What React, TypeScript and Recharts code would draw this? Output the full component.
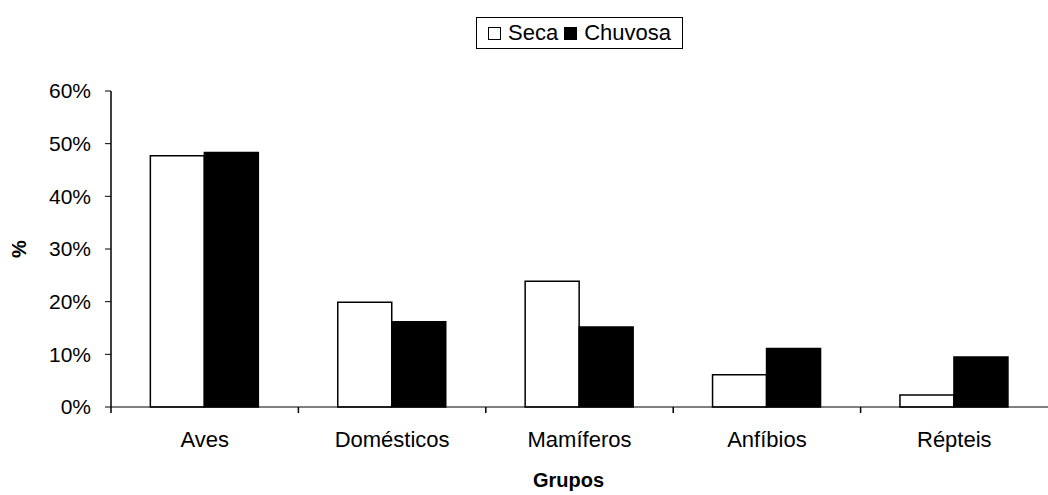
import React from "react";
import { BarChart, Bar, XAxis, YAxis, Legend } from "recharts";

// percentual de registros por grupo, em cada estação
const grupos = ["Aves", "Domésticos", "Mamíferos", "Anfíbios", "Répteis"];
const seca = [47.7, 19.9, 23.9, 6.1, 2.3];
const chuvosa = [48.3, 16.2, 15.2, 11.1, 9.5];
const yTicks = [0, 10, 20, 30, 40, 50, 60];

const estacoes = [
  { key: "seca", nome: "Seca", fill: "#ffffff" },
  { key: "chuvosa", nome: "Chuvosa", fill: "#000000" },
];

const data = grupos.map((g, i) => ({ grupo: g, seca: seca[i], chuvosa: chuvosa[i] }));

const fonte = "'Liberation Sans', Arial, sans-serif";

// rótulo centrado + traço de divisa à esquerda de cada categoria
const GrupoTick = (props: any) => {
  const { x, y, payload } = props;
  const meio = payload.offset || 0;
  return (
    <g>
      <line x1={x - meio} x2={x - meio} y1={y - 6} y2={y} stroke="#000" strokeWidth={1.5} />
      <text x={x} y={y + 34} textAnchor="middle" fontSize={22} fontFamily={fonte} fill="#000">
        {payload.value}
      </text>
    </g>
  );
};

const Legenda = () => (
  <div
    style={{
      display: "flex",
      alignItems: "center",
      justifyContent: "center",
      border: "1px solid #000",
      height: 32,
      width: 207,
      boxSizing: "border-box",
      fontFamily: fonte,
      fontSize: 22,
      color: "#000",
      background: "#fff",
    }}
  >
    {estacoes.map((e, i) => (
      <span key={e.key} style={{ display: "flex", alignItems: "center", marginLeft: i ? 6 : 0 }}>
        <span
          style={{
            display: "inline-block",
            width: 11,
            height: 11,
            border: "1px solid #000",
            background: e.fill,
            marginRight: 7,
          }}
        />
        {e.nome}
      </span>
    ))}
  </div>
);

const App: React.FC = () => {
  return (
    <>
      <style>{`body{margin:0}`}</style>
      <BarChart
        width={1048}
        height={495}
        data={data}
        margin={{ top: 91, right: 0, bottom: 0, left: 0 }}
        barCategoryGap="21%"
        barGap={0}
      >
        <XAxis
          dataKey="grupo"
          height={88}
          axisLine={{ stroke: "#000", strokeWidth: 1 }}
          tickLine={{ stroke: "none" }}
          tickSize={6}
          tickMargin={0}
          interval={0}
          tick={<GrupoTick />}
          label={{
            value: "Grupos",
            position: "center",
            dx: -11,
            dy: 29,
            fontSize: 20,
            fontWeight: "bold",
            fontFamily: fonte,
            fill: "#000",
          }}
        />
        <YAxis
          width={111}
          domain={[0, 60]}
          ticks={yTicks}
          interval={0}
          tickFormatter={(v: number) => `${v}%`}
          axisLine={{ stroke: "#000", strokeWidth: 1.5 }}
          tickLine={{ stroke: "#000", strokeWidth: 1 }}
          tickSize={6}
          tickMargin={14}
          tick={{ fontSize: 21, fontFamily: fonte, fill: "#000" }}
          label={{
            value: "%",
            angle: -90,
            position: "center",
            dx: -37,
            fontSize: 20,
            fontWeight: "bold",
            fontFamily: fonte,
            fill: "#000",
          }}
        />
        <Legend
          verticalAlign="middle"
          align="center"
          wrapperStyle={{ top: 17, left: 476, width: 207 }}
          content={<Legenda />}
        />
        {estacoes.map((e) => (
          <Bar
            key={e.key}
            dataKey={e.key}
            name={e.nome}
            fill={e.fill}
            stroke="#000"
            strokeWidth={1.5}
            isAnimationActive={false}
          />
        ))}
      </BarChart>
    </>
  );
};

export default App;
